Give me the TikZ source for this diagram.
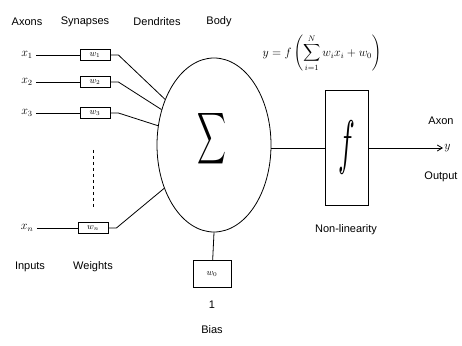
\documentclass[tikz,border=0pt]{standalone}
\usepackage{amsmath, amssymb}
\usepackage{graphicx}
\usepackage{fontspec}
\setsansfont{Liberation Sans}
\usetikzlibrary{shapes, arrows.meta}

\begin{document}
\begin{tikzpicture}[x=1pt, y=1pt,
				wbox/.style={draw, thick, minimum width=30pt, minimum height=11pt, inner sep=0pt, font=\small},
				lbl/.style={font=\sffamily\fontsize{11}{13}\selectfont},
				>={Straight Barb[length=5pt, width=6pt]},   %Pfeilspitzen
				thick]
				%Bildbereich
				\useasboundingbox (0,0) rectangle (462,345);
				% Ueberschriften
				\node[lbl] (hax) at (27,323) {Axons};
				\node[lbl] (hsy) at (85,323) {Synapses};
				\node[lbl] (hde) at (157,323) {Dendrites};
				\node[lbl] (hbo) at (219,323) {Body};
				% Zellkoerper
				\node[draw, ellipse, minimum width=114pt, minimum height=174pt, inner sep=0pt] (body) at (214,200) {};
				\node (sig) at (212,206) {\scalebox{2}[3.6]{$\displaystyle\sum$}};
				% Eingaenge mit Gewichten
				\foreach \i/\y/\a in {1/290/137, 2/263/146, 3/232/161} {
					\node[font=\large] (x\i) at (27,\y) {$x_{\i}$};
					\node[wbox] (w\i) at (95,\y) {$w_{\i}$};
					\draw (x\i) -- (w\i);
					\draw (w\i.east) -- ++(8,0) -- (body.\a);
				}
				\node[font=\large] (xn) at (27,117) {$x_n$};
				\node[wbox] (wn) at (93,117) {$w_n$};
				\draw (xn) -- (wn);
				\draw (wn.east) -- ++(8,0) -- (body.221);
				\coordinate (dtop) at (93,195);
				\coordinate (dbot) at (93,138);
				\draw[dashed] (dtop) -- (dbot);
				\node[lbl] (inp) at (30,78) {Inputs};
				\node[lbl] (wei) at (93,78) {Weights};
				% Bias
				\node[draw, thick, minimum width=38pt, minimum height=27pt, inner sep=0pt] (w0) at (212,71) {\small$w_0$};
				\draw (body.south) -- (w0);
				\node[lbl] (one) at (212,40) {1};
				\node[lbl] (bias) at (212,15) {Bias};
				% Nichtlinearitaet
				\node[draw, thick, minimum width=43pt, minimum height=115pt, inner sep=0pt] (f) at (346.5,197) {\scalebox{2.8}[6]{$f$}};
				\draw (body.east |- f.west) -- (f.west);
				\node[lbl] (nonlin) at (346,115) {Non-linearity};
				\node[font=\large] (form) at (322,292) {$\displaystyle y=f\left(\sum_{i=1}^{N} w_i x_i + w_0\right)$};
				% Ausgang
				\coordinate (yout) at (443,197);
				\draw[->] (f.east) -- (yout) node[right, inner sep=1pt, font=\large] {$y$};
				\node[lbl] (axon) at (441,224) {Axon};
				\node[lbl] (outp) at (441,168) {Output};
			\end{tikzpicture}
\end{document}
